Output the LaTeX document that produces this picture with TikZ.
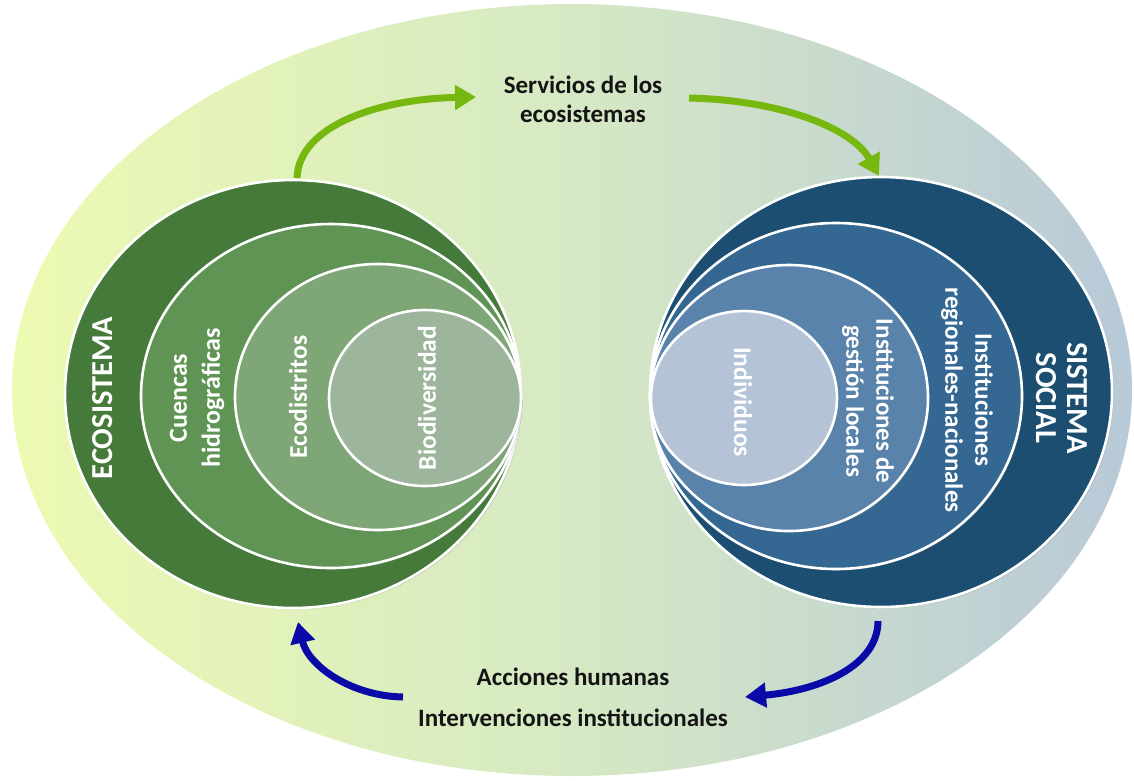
\documentclass[tikz,border=0pt]{standalone}
\usepackage{fontspec}
\setmainfont{Carlito}
\usetikzlibrary{shapes.geometric,arrows.meta,shadows}
\definecolor{bgL}{RGB}{236,250,178}
\definecolor{bgM}{RGB}{214,233,196}
\definecolor{bgR}{RGB}{184,201,216}
\definecolor{ecoA}{RGB}{70,122,58}
\definecolor{ecoB}{RGB}{95,148,85}
\definecolor{ecoC}{RGB}{127,166,118}
\definecolor{ecoD}{RGB}{157,181,155}
\definecolor{socA}{RGB}{27,78,112}
\definecolor{socB}{RGB}{52,104,146}
\definecolor{socC}{RGB}{89,131,170}
\definecolor{socD}{RGB}{180,196,214}
\definecolor{arrG}{RGB}{118,184,16}
\definecolor{arrB}{RGB}{10,10,168}
\definecolor{txt}{RGB}{20,20,20}
\begin{document}
\begin{tikzpicture}[x=1pt,y=-1pt,
  ring/.style={ellipse, draw=white, line width=2.6pt, inner sep=0pt,
    drop shadow={shadow xshift=1.5pt, shadow yshift=-1.5pt, opacity=0.3}},
  vlbl/.style={text=white, align=center, inner sep=0pt, font=\fontsize{25.5}{31}\selectfont\bfseries},
  biglbl/.style={text=white, align=center, inner sep=0pt, font=\fontsize{30.5}{30}\selectfont\bfseries},
  hlbl/.style={text=txt, align=center, inner sep=0pt, font=\fontsize{25}{29}\selectfont\bfseries},
  garrow/.style={draw=arrG, line width=7pt, -{Triangle[length=21pt,width=24pt]}},
  barrow/.style={draw=arrB, line width=7pt, -{Triangle[length=21pt,width=24pt]}}
]
\useasboundingbox (0,0) rectangle (1134,780);
\path[left color=bgL, right color=bgR, middle color=bgM]
  (572,390) ellipse [x radius=560, y radius=386];

% ecosystem rings
\node[ring, fill=ecoA, minimum width=456pt, minimum height=428pt] (eco1) at (293,394) {};
\node[ring, fill=ecoB, minimum width=380pt, minimum height=344pt] (eco2) at (331,396) {};
\node[ring, fill=ecoC, minimum width=286pt, minimum height=266pt] (eco3) at (378,397) {};
\node[ring, fill=ecoD, minimum width=192pt, minimum height=176pt] (eco4) at (425,398) {};

% social rings
\node[ring, fill=socA, minimum width=462pt, minimum height=430pt] (soc1) at (881,392) {};
\node[ring, fill=socB, minimum width=372pt, minimum height=346pt] (soc2) at (836,396) {};
\node[ring, fill=socC, minimum width=278pt, minimum height=266pt] (soc3) at (789,398) {};
\node[ring, fill=socD, minimum width=186pt, minimum height=174pt] (soc4) at (744,398) {};

% ring labels
\node[biglbl, rotate=90] (lEco) at (103,398) {ECOSISTEMA};
\node[vlbl, rotate=90, font=\fontsize{26}{33}\selectfont\bfseries] (lCue) at (197,398) {Cuencas\\hidrográficas};
\node[vlbl, rotate=90] (lEcd) at (298,397) {Ecodistritos};
\node[vlbl, rotate=90] (lBio) at (427,398) {Biodiversidad};
\node[biglbl, rotate=-90, font=\fontsize{30.5}{31}\selectfont\bfseries] (lSoc) at (1062,398) {SISTEMA\\SOCIAL};
\node[vlbl, rotate=-90, font=\fontsize{25}{30}\selectfont\bfseries] (lReg) at (967,400) {Instituciones\\regionales-nacionales};
\node[vlbl, rotate=-90, font=\fontsize{25}{30}\selectfont\bfseries] (lLoc) at (868,401) {Instituciones de\\gestión locales};
\node[vlbl, rotate=-90] (lInd) at (743,402) {Individuos};

% flow labels
\node[hlbl] (svc) at (583,99) {Servicios de los\\ecosistemas};
\node[hlbl] (acc) at (573,677) {Acciones humanas};
\node[hlbl] (int) at (573,718) {Intervenciones institucionales};

% arrow end coordinates
\coordinate (a1s) at (297,178);
\coordinate (a1e) at (476,97);
\coordinate (a2s) at (689,98);
\coordinate (a2e) at (879,176);
\coordinate (a3s) at (878,621);
\coordinate (a3e) at (745,697);
\coordinate (a4s) at (403,697);
\coordinate (a4e) at (298,622);

\draw[garrow] (a1s) .. controls (299,125) and (380,99) .. (a1e);
\draw[garrow] (a2s) .. controls (780,100) and (852,128) .. (a2e);
\draw[barrow] (a3s) .. controls (878,665) and (822,690) .. (a3e);
\draw[barrow] (a4s) .. controls (350,696) and (308,665) .. (a4e);
\end{tikzpicture}
\end{document}
